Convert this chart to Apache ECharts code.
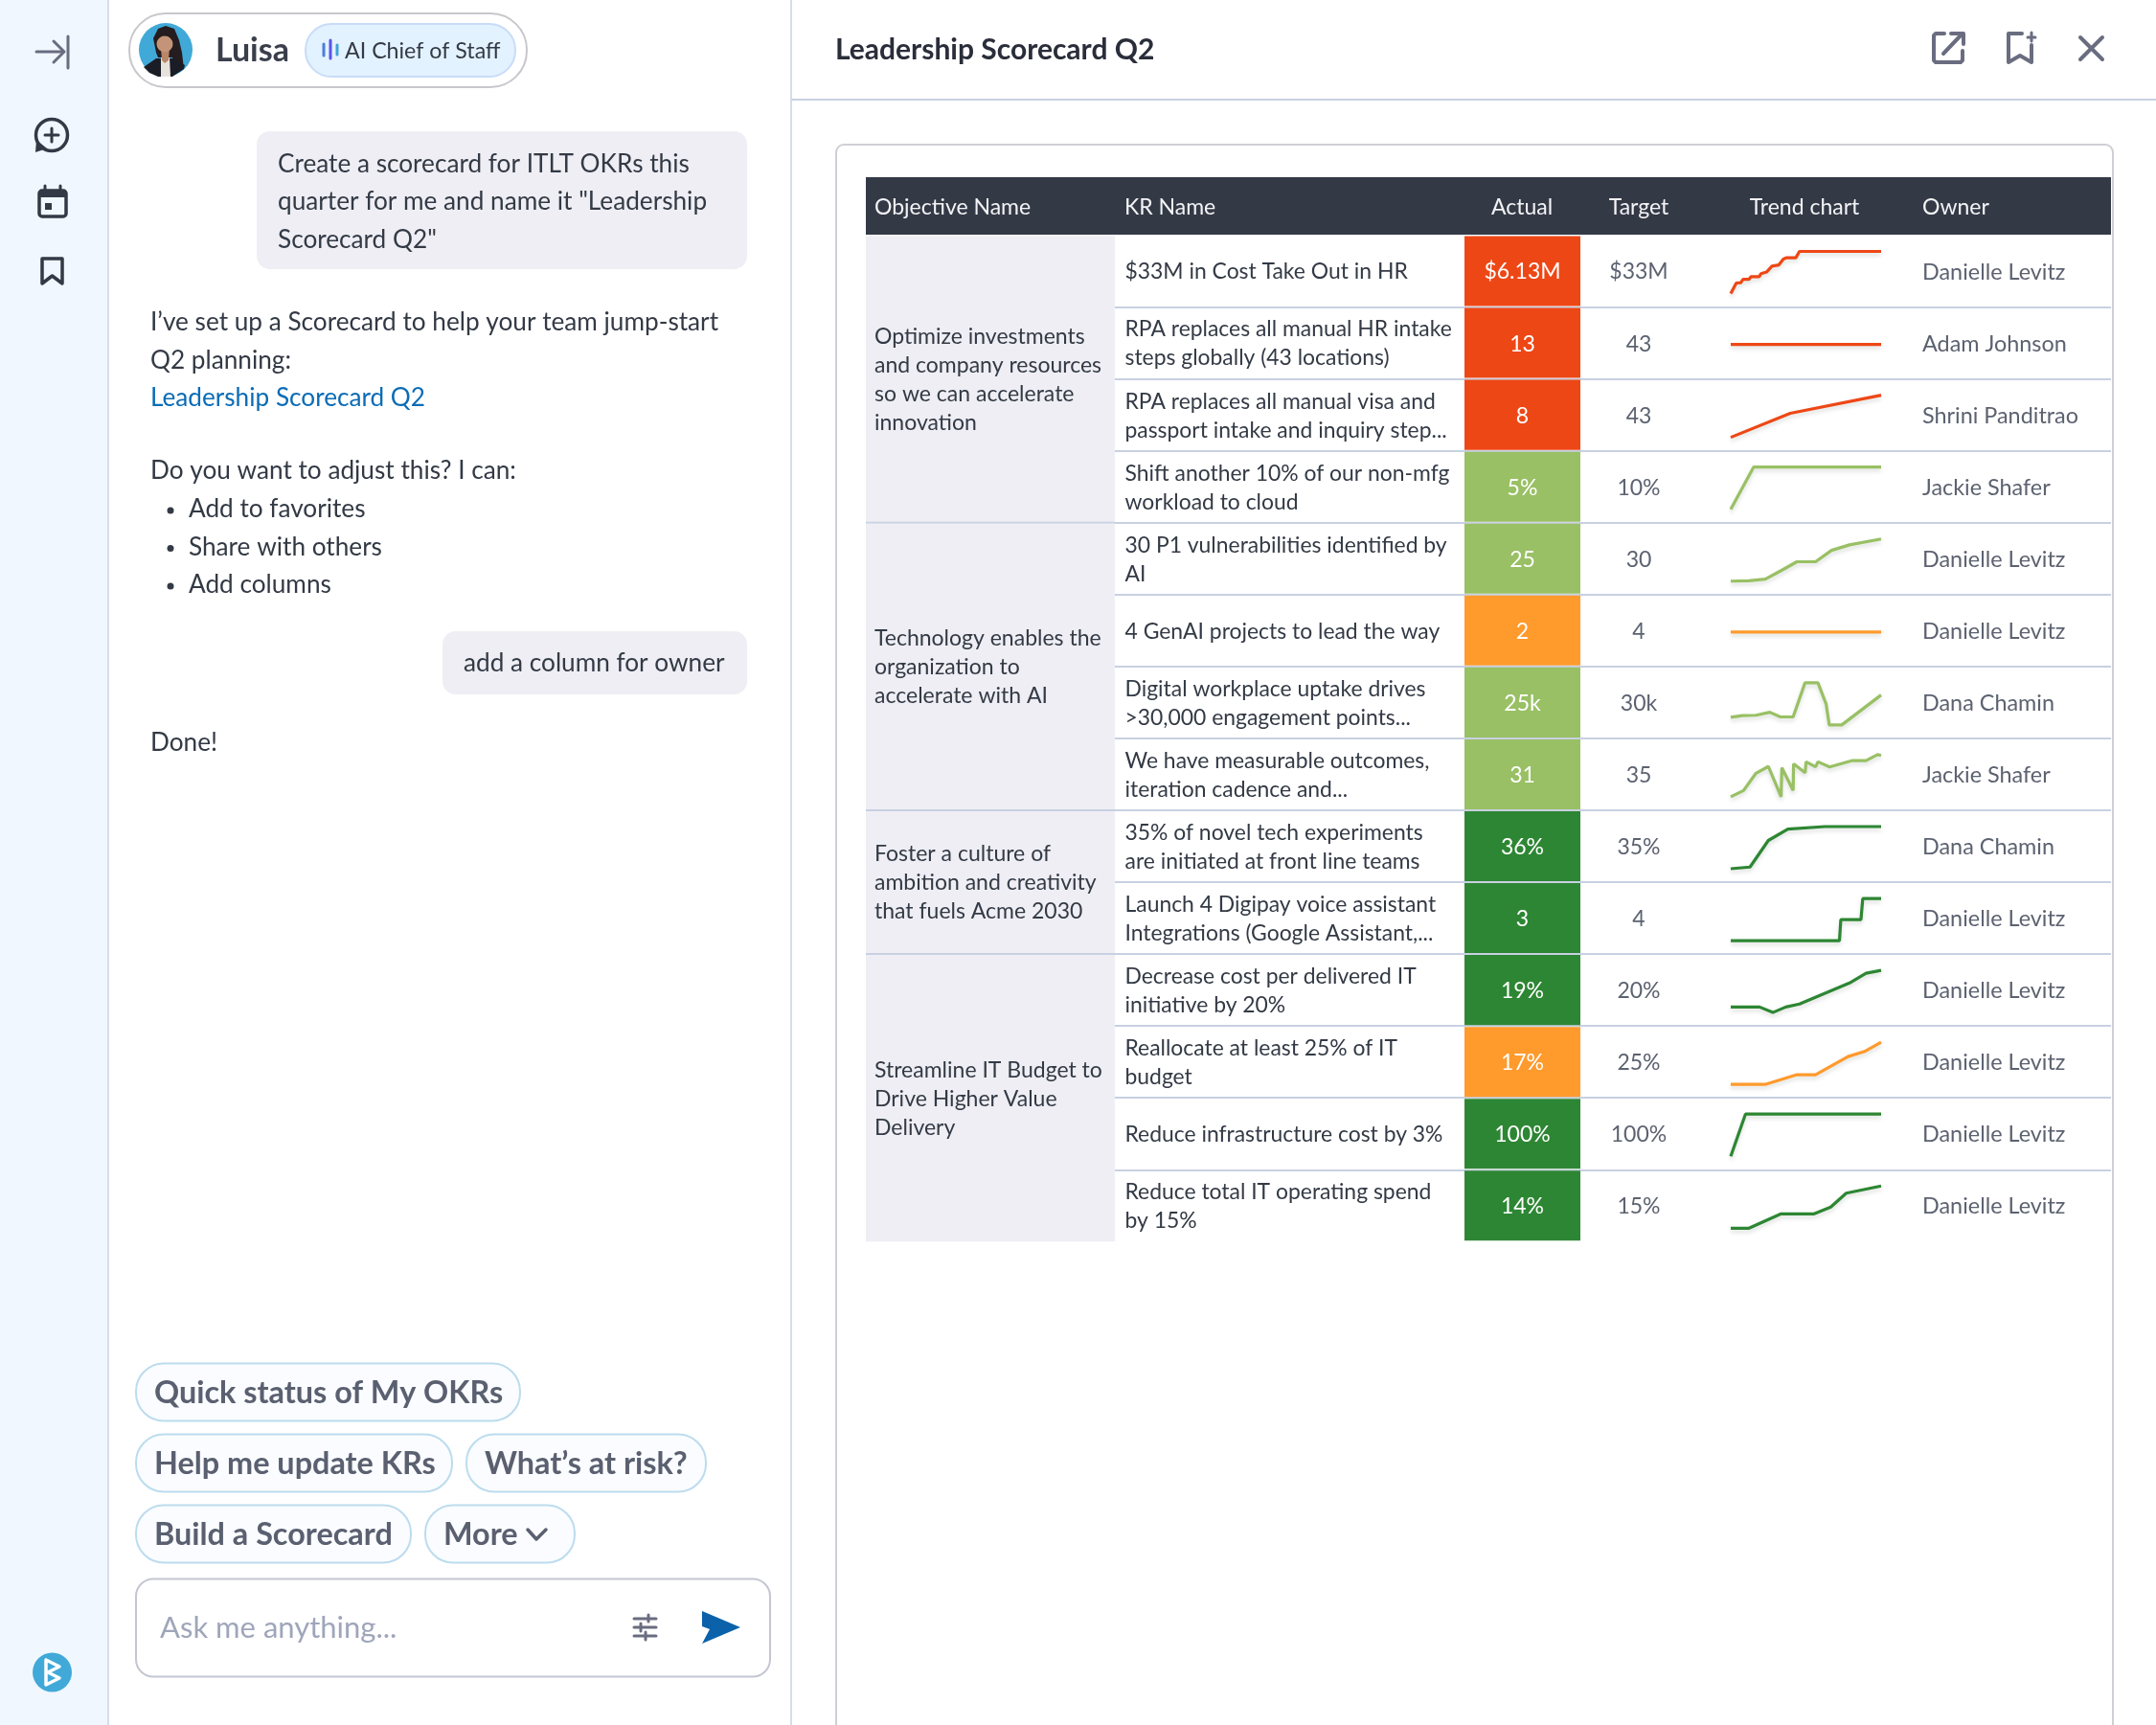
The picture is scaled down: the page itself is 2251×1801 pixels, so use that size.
<!DOCTYPE html>
<html>
<head>
<meta charset="utf-8">
<title>Leadership Scorecard Q2</title>
<script src="https://cdn.jsdelivr.net/npm/echarts@6/dist/echarts.min.js"></script>
<style>
  html, body { margin: 0; padding: 0; background: #fff; }
  #main { width: 2251px; height: 1801px; }
</style>
</head>
<body>
<div id="main"></div>
<script>
// 表格数据
var headers = ['Objective Name', 'KR Name', 'Actual', 'Target', 'Trend chart', 'Owner'];
var objectives = [
  'Optimize investments\nand company resources\nso we can accelerate\ninnovation',
  'Technology enables the\norganization to\naccelerate with AI',
  'Foster a culture of\nambition and creativity\nthat fuels Acme 2030',
  'Streamline IT Budget to\nDrive Higher Value\nDelivery'
];
var objectiveRows = [4, 4, 2, 4];
var krNames = [
  '$33M in Cost Take Out in HR',
  'RPA replaces all manual HR intake\nsteps globally (43 locations)',
  'RPA replaces all manual visa and\npassport intake and inquiry step...',
  'Shift another 10% of our non-mfg\nworkload to cloud',
  '30 P1 vulnerabilities identified by\nAI',
  '4 GenAI projects to lead the way',
  'Digital workplace uptake drives\n>30,000 engagement points...',
  'We have measurable outcomes,\niteration cadence and...',
  '35% of novel tech experiments\nare initiated at front line teams',
  'Launch 4 Digipay voice assistant\nIntegrations (Google Assistant,...',
  'Decrease cost per delivered IT\ninitiative by 20%',
  'Reallocate at least 25% of IT\nbudget',
  'Reduce infrastructure cost by 3%',
  'Reduce total IT operating spend\nby 15%'
];
var actuals = ['$6.13M', '13', '8', '5%', '25', '2', '25k', '31', '36%', '3', '19%', '17%', '100%', '14%'];
var targets = ['$33M', '43', '43', '10%', '30', '4', '30k', '35', '35%', '4', '20%', '25%', '100%', '15%'];
var owners = ['Danielle Levitz', 'Adam Johnson', 'Shrini Panditrao', 'Jackie Shafer', 'Danielle Levitz', 'Danielle Levitz', 'Dana Chamin', 'Jackie Shafer', 'Dana Chamin', 'Danielle Levitz', 'Danielle Levitz', 'Danielle Levitz', 'Danielle Levitz', 'Danielle Levitz'];
var statuses = ['behind', 'behind', 'behind', 'near', 'near', 'risk', 'near', 'near', 'done', 'done', 'done', 'risk', 'done', 'done'];

// 趋势线 [进度, 数值] 从图上读的
var trendPoints = [
  [[0,0],[3.7,25],[6.7,26],[8.2,34],[12.2,34],[13.4,40],[18.9,40],[20.1,47],[23.8,51],[27.4,65],[32,68],[35,82],[37.2,85],[43.3,85],[45.7,100],[100,100]],
  [[0,50],[100,50]],
  [[0,0],[39.6,57],[100,100]],
  [[0,0],[15.2,100],[100,100]],
  [[0,0],[12,1],[23,5],[33.5,25],[44,46],[56.4,46],[67,73],[79,86],[100,100]],
  [[0,50],[100,50]],
  [[0,18],[7.6,22],[16.8,23],[26,30],[33,19],[41.5,19],[49.4,100],[58,100],[63.4,50],[65.5,0],[73.8,0],[100,71]],
  [[0,0],[8.5,15],[16.8,56],[25,72],[33.5,0],[34,69],[41.5,15],[41.8,78],[49.5,57],[50.1,83],[56.4,71],[58,83],[65.8,71],[81,86],[90,86],[97.6,100],[100,98]],
  [[0,0],[12.8,4],[25,67],[38,94],[62.5,100],[100,100]],
  [[0,0],[72.3,0],[73.2,50],[86.6,50],[87.8,100],[100,100]],
  [[0,13],[19.2,13],[28,0],[36.6,13],[45.7,20],[79,70],[90,93],[100,100]],
  [[0,0],[22.9,0],[44,23],[56.4,23],[78,66],[89,78],[100,100]],
  [[0,0],[9.8,100],[100,100]],
  [[0,0],[12.2,0],[33.5,34],[55.5,34],[66.5,50],[76.8,83],[100,100]]
];

// 左边聊天内容
var promptLines = ['Create a scorecard for ITLT OKRs this', 'quarter for me and name it "Leadership', 'Scorecard Q2"'];
var replyLines = ['I\u2019ve set up a Scorecard to help your team jump-start', 'Q2 planning:'];
var bulletLines = ['Add to favorites', 'Share with others', 'Add columns'];
var chipRows = [
  { text: 'Quick status of My OKRs', x0: 142, x1: 543, y: 1453.5 },
  { text: 'Help me update KRs', x0: 142, x1: 472, y: 1527.5 },
  { text: 'What\u2019s at risk?', x0: 487, x1: 737, y: 1527.5 },
  { text: 'Build a Scorecard', x0: 142, x1: 429, y: 1601.5 },
  { text: 'More', x0: 444, x1: 600, y: 1601.5 }
];

var FONT = 'Lato, "Open Sans", sans-serif';
var statusColor = { behind: '#ee4716', near: '#99c064', risk: '#ff9a2d', done: '#2d8633' };
var LINE = '#c8d0e2';
var TEXT_DARK = '#333a45';
var TEXT_GREY = '#5c6270';
var CHAT_SIZE = 26.2;

// 表格的位置
var TABLE_LEFT = 904, TABLE_TOP = 245.5, ROW_H = 75.06, ROW_COUNT = krNames.length;
var RIGHT_LEFT = 1164, RIGHT_W = 1040;
var TREND_LEFT = 1807, TREND_W = 157, TREND_TOP = 17, TREND_H = 44;

function txt(text, x, y, size, fill, weight, align) {
  return {
    type: 'text', silent: true,
    style: {
      text: text, x: x, y: y, fill: fill,
      font: (weight || 400) + ' ' + size + 'px ' + FONT,
      align: align || 'left', verticalAlign: 'middle'
    }
  };
}
function box(x0, y0, x1, y1, r, fill, stroke, lw) {
  return {
    type: 'rect', silent: true,
    shape: { x: x0, y: y0, width: x1 - x0, height: y1 - y0, r: r },
    style: { fill: fill, stroke: stroke || null, lineWidth: lw || 0 }
  };
}
function poly(points, stroke, lw) {
  return {
    type: 'polyline', silent: true,
    shape: { points: points },
    style: { stroke: stroke, lineWidth: lw, fill: null, lineCap: 'round', lineJoin: 'round' }
  };
}
function fillPoly(points, fill) {
  return { type: 'polygon', silent: true, shape: { points: points }, style: { fill: fill } };
}
function ring(cx, cy, r, fill, stroke, lw) {
  return {
    type: 'circle', silent: true,
    shape: { cx: cx, cy: cy, r: r },
    style: { fill: fill, stroke: stroke || null, lineWidth: lw || 0 }
  };
}

// 页面外框，图标和聊天部分
function buildChrome() {
  var iconDark = '#343946', iconGrey = '#6a6d80';
  var els = [
    box(0, 0, 113, 1801, 0, '#f0f7fe'),
    poly([[113, 0], [113, 1801]], '#d5ddee', 2),
    poly([[826, 0], [826, 1801]], '#d5ddee', 2),
    poly([[827, 104], [2251, 104]], '#c8d0e2', 2),
    box(873, 151, 2206, 1830, 8, '#fff', '#cfd0d6', 2),

    // 侧边图标
    poly([[38, 54], [66, 54]], iconGrey, 3),
    poly([[56, 43], [67, 54], [56, 65]], iconGrey, 3),
    poly([[71, 38], [71, 71]], iconGrey, 3),
    ring(54, 141, 16.5, 'none', iconDark, 3.5),
    fillPoly([[38, 146], [37, 159], [49, 155]], iconDark),
    poly([[54, 134], [54, 148]], iconDark, 3),
    poly([[47, 141], [61, 141]], iconDark, 3),
    box(41, 199, 69, 226, 3, 'none', iconDark, 3.5),
    box(41, 199, 69, 206, 0, iconDark),
    poly([[47, 194], [47, 199]], iconDark, 3),
    poly([[63, 194], [63, 199]], iconDark, 3),
    box(47, 212, 54, 219, 0, iconDark),
    poly([[44, 270], [65, 270], [65, 296], [54.5, 288], [44, 296], [44, 270]], iconDark, 3.5),
    ring(54.5, 1746, 20.5, '#41a9d8'),
    poly([[48, 1733], [62, 1740], [50, 1746], [62, 1752], [48, 1759], [48, 1733]], '#fff', 3.5),

    // Luisa 头像
    box(135, 14, 550, 91, 38, '#fff', '#c9c7cc', 2),
    ring(173, 52, 28, '#41a9d8'),
    fillPoly([[163, 55], [160, 40], [165, 30], [173, 27], [182, 30], [187, 42], [190, 55], [192, 72], [186, 73], [180, 60], [165, 60]], '#241c1e'),
    fillPoly([[150, 70], [163, 61], [181, 61], [193, 68], [192, 72], [180, 80], [165, 80], [156, 76]], '#1b1d26'),
    fillPoly([[168, 60], [177, 60], [178, 80], [168, 80]], '#e8e2dc'),
    fillPoly([[168, 50], [177, 50], [176, 63], [172, 66], [169, 63]], '#b98668'),
    ring(172, 46, 8.5, '#c49478'),
    txt('Luisa', 225, 53, 34, '#3a3f4b', 700),
    box(319, 25, 538, 80, 27, '#e3f2ff', '#c8dcf8', 2),
    poly([[338, 46], [338, 58]], '#4a7ee0', 3),
    poly([[345, 42], [345, 61]], '#5b54e8', 3),
    poly([[352, 47], [352, 57]], '#3fa2dc', 3),
    txt('AI Chief of Staff', 360, 53.5, 23.2, TEXT_DARK, 400),

    // 聊天气泡
    box(268, 137, 780, 281, 14, '#eeeef4'),
    box(462, 659, 780, 725, 14, '#eeeef4'),
    txt('add a column for owner', 484, 693, CHAT_SIZE, TEXT_DARK),
    txt('Leadership Scorecard Q2', 157, 416, CHAT_SIZE, '#0b6cb5'),
    txt('Do you want to adjust this? I can:', 157, 492, CHAT_SIZE, TEXT_DARK),
    txt('Done!', 157, 776, CHAT_SIZE, TEXT_DARK),

    // 输入框
    box(142, 1648.5, 804, 1750.5, 18, '#fff', '#c4c6d2', 2),
    txt('Ask me anything...', 167, 1699.5, 31, '#9fa6ba'),
    poly([[662, 1690], [685, 1690]], iconGrey, 3),
    poly([[662, 1699], [685, 1699]], iconGrey, 3),
    poly([[662, 1708], [685, 1708]], iconGrey, 3),
    poly([[677, 1686], [677, 1693]], iconGrey, 3),
    poly([[669, 1695], [669, 1703]], iconGrey, 3),
    poly([[674, 1704], [674, 1712]], iconGrey, 3),
    fillPoly([[733, 1682], [773, 1699], [733, 1716], [741, 1701], [733, 1698]], '#0b62ab'),

    // 右上图标
    txt('Leadership Scorecard Q2', 872, 52, 30, '#2a2e3a', 700),
    poly([[2030, 35], [2021, 35], [2019, 37], [2019, 63], [2021, 65], [2047, 65], [2049, 63], [2049, 53]], iconGrey, 4),
    poly([[2029, 56], [2048, 36]], iconGrey, 4),
    poly([[2037, 35], [2050, 35], [2050, 46]], iconGrey, 4),
    poly([[2111, 35], [2097, 35], [2097, 65], [2109, 58], [2121, 65], [2121, 47]], iconGrey, 4),
    poly([[2117, 39], [2125, 39]], iconGrey, 3),
    poly([[2121, 34], [2121, 43]], iconGrey, 3),
    poly([[2172, 39], [2195, 62]], iconGrey, 4),
    poly([[2195, 39], [2172, 62]], iconGrey, 4)
  ];

  promptLines.forEach(function (s, i) {
    els.push(txt(s, 290, 171.5 + i * 39.5, CHAT_SIZE, TEXT_DARK));
  });
  replyLines.forEach(function (s, i) {
    els.push(txt(s, 157, 337 + i * 39.5, CHAT_SIZE, TEXT_DARK));
  });
  bulletLines.forEach(function (s, i) {
    var y = 532 + i * 39.5;
    els.push(ring(178, y + 1, 3.5, TEXT_DARK));
    els.push(txt(s, 197, y, CHAT_SIZE, TEXT_DARK));
  });
  chipRows.forEach(function (c) {
    els.push(box(c.x0, c.y - 30, c.x1, c.y + 30, 29, '#fafcff', '#bcdcee', 2));
    els.push(txt(c.text, c.x0 + 19, c.y + 1, 32.4, '#5a6070', 700));
  });
  els.push(poly([[551, 1597], [560, 1607], [570, 1597]], '#5a6070', 3.5));
  return els;
}

// 一列文字
function textColumn(values, x, size, fill, align) {
  return {
    type: 'custom', xAxisIndex: 0, yAxisIndex: 0, silent: true, z: 4,
    encode: { x: 0, y: 1 },
    data: values.map(function (v, i) { return [x, i]; }),
    renderItem: function (params, api) {
      var p = api.coord([api.value(0), api.value(1)]);
      return {
        type: 'text',
        style: {
          text: values[params.dataIndex], x: p[0], y: p[1] + 1, fill: fill,
          font: '400 ' + size + 'px ' + FONT, lineHeight: 30,
          align: align, verticalAlign: 'middle'
        }
      };
    }
  };
}

var grids = [
  { left: RIGHT_LEFT, top: TABLE_TOP, width: RIGHT_W, height: ROW_H * ROW_COUNT },
  { left: TABLE_LEFT, top: TABLE_TOP, width: RIGHT_LEFT - TABLE_LEFT, height: ROW_H * ROW_COUNT },
  { left: TABLE_LEFT, top: 185, width: 1300, height: 60 }
];
var xAxes = [
  { gridIndex: 0, type: 'value', min: 0, max: RIGHT_W, show: false },
  { gridIndex: 1, type: 'value', min: 0, max: RIGHT_LEFT - TABLE_LEFT, show: false },
  { gridIndex: 2, type: 'value', min: 0, max: 1300, show: false }
];
var yAxes = [
  {
    gridIndex: 0, type: 'category', inverse: true, data: krNames,
    axisLine: { show: false }, axisTick: { show: false }, axisLabel: { show: false },
    splitLine: { show: true, interval: 0, showMinLine: false, showMaxLine: false, lineStyle: { color: LINE, width: 2 } }
  },
  { gridIndex: 1, type: 'value', inverse: true, min: 0, max: ROW_COUNT, show: false, splitLine: { show: false } },
  { gridIndex: 2, type: 'category', data: ['header'], show: false }
];

var series = [];

// Actual 色块
series.push({
  type: 'custom', xAxisIndex: 0, yAxisIndex: 0, silent: true, z: 3,
  encode: { x: 0, y: 1 },
  data: actuals.map(function (v, i) { return [425.5, i]; }),
  renderItem: function (params, api) {
    var p = api.coord([api.value(0), api.value(1)]);
    var h = api.size([0, 1])[1];
    var w = api.size([121, 0])[0];
    return {
      type: 'group',
      children: [
        { type: 'rect', shape: { x: p[0] - w / 2, y: p[1] - h / 2 + 1, width: w, height: h - 2 }, style: { fill: statusColor[statuses[params.dataIndex]] } },
        { type: 'text', style: { text: actuals[params.dataIndex], x: p[0], y: p[1] + 1, fill: '#fff', font: '400 23px ' + FONT, align: 'center', verticalAlign: 'middle' } }
      ]
    };
  }
});
series.push(textColumn(krNames, 10.5, 22.9, TEXT_DARK, 'left'));
series.push(textColumn(targets, 547, 23, TEXT_GREY, 'center'));
series.push(textColumn(owners, 843, 23.4, TEXT_GREY, 'left'));

// Objective 合并单元格
var objectiveStart = 0;
series.push({
  type: 'custom', xAxisIndex: 1, yAxisIndex: 1, silent: true, z: 3,
  encode: { x: 0, y: [1, 2] },
  data: objectives.map(function (o, i) {
    var row = [0, objectiveStart, objectiveStart + objectiveRows[i]];
    objectiveStart += objectiveRows[i];
    return row;
  }),
  renderItem: function (params, api) {
    var a = api.coord([0, api.value(1)]);
    var b = api.coord([RIGHT_LEFT - TABLE_LEFT, api.value(2)]);
    var children = [
      { type: 'rect', shape: { x: a[0], y: a[1] + 1, width: b[0] - a[0], height: b[1] - a[1] - 1 }, style: { fill: '#eeeef4' } },
      { type: 'text', style: { text: objectives[params.dataIndex], x: a[0] + 9, y: (a[1] + b[1]) / 2 + 1, fill: TEXT_DARK, font: '400 23px ' + FONT, lineHeight: 30, align: 'left', verticalAlign: 'middle' } }
    ];
    if (params.dataIndex < objectives.length - 1) {
      children.push({ type: 'line', shape: { x1: a[0], y1: b[1], x2: b[0], y2: b[1] }, style: { stroke: LINE, lineWidth: 2 } });
    }
    return { type: 'group', children: children };
  }
});

// 表头
var headerX = [9, 270, 685, 807, 980, 1103];
var headerAlign = ['left', 'left', 'center', 'center', 'center', 'left'];
series.push({
  type: 'custom', xAxisIndex: 2, yAxisIndex: 2, silent: true, z: 3,
  encode: { x: 0, y: 1 },
  data: [[0, 0]],
  renderItem: function (params, api) {
    var p = api.coord([0, 0]);
    var h = api.size([0, 1])[1];
    var w = api.size([1300, 0])[0];
    var children = [{ type: 'rect', shape: { x: p[0], y: p[1] - h / 2, width: w, height: h }, style: { fill: '#343946' } }];
    headers.forEach(function (t, i) {
      children.push({ type: 'text', style: { text: t, x: p[0] + headerX[i], y: p[1] + 1.5, fill: '#f2f3f5', font: '400 23px ' + FONT, align: headerAlign[i], verticalAlign: 'middle' } });
    });
    return { type: 'group', children: children };
  }
});

// 每行一个小折线图
trendPoints.forEach(function (pts, i) {
  var idx = grids.length;
  grids.push({ left: TREND_LEFT, width: TREND_W, top: TABLE_TOP + ROW_H * i + TREND_TOP, height: TREND_H });
  xAxes.push({ gridIndex: idx, type: 'value', min: 0, max: 100, show: false });
  yAxes.push({ gridIndex: idx, type: 'value', min: 0, max: 100, show: false });
  var c = statusColor[statuses[i]];
  series.push({
    type: 'line', xAxisIndex: idx, yAxisIndex: idx, data: pts, name: krNames[i],
    symbol: 'none', silent: true, z: 5, clip: false,
    lineStyle: { color: c, width: 3.2, shadowColor: 'rgba(90,110,90,0.22)', shadowBlur: 4, shadowOffsetY: 3 }
  });
});

var chart = echarts.init(document.getElementById('main'), null, { renderer: 'canvas' });
chart.setOption({
  animation: false,
  backgroundColor: '#fff',
  textStyle: { fontFamily: FONT },
  tooltip: { show: false },
  legend: { show: false },
  graphic: { elements: buildChrome() },
  grid: grids,
  xAxis: xAxes,
  yAxis: yAxes,
  series: series
});
</script>
</body>
</html>
